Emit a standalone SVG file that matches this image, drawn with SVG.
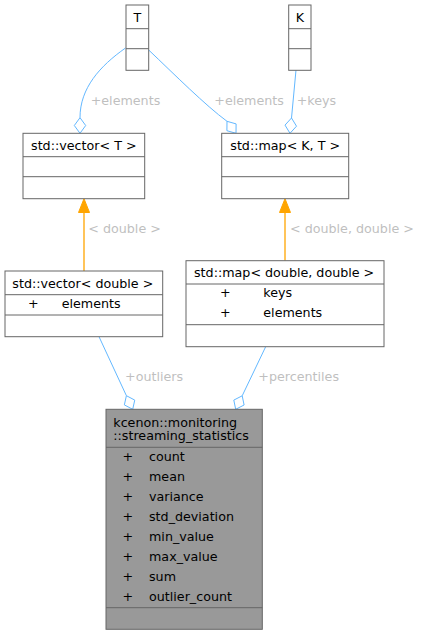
<svg xmlns="http://www.w3.org/2000/svg" width="421" height="635" viewBox="0 0 421 635">
<style>
text{font-family:"DejaVu Sans","Noto Sans",sans-serif;font-size:12.7px;fill:#000}
.box{fill:#fff;stroke:#666;stroke-width:1}
.main{fill:#999;stroke:#666;stroke-width:1}
.div{stroke:#666;stroke-width:1;fill:none}
.lbl{fill:#bfbfbf}
.blue{stroke:#63b8ff;stroke-width:1;fill:none}
.dia{stroke:#63b8ff;stroke-width:1;fill:#fff}
.org{stroke:#ffa500;stroke-width:1.3;fill:none}
.orgh{fill:#ffa500;stroke:#ffa500;stroke-width:1}
.c{text-anchor:middle}
</style>
<g id="connectors">
<path class="blue" d="M125.5,48 C100,66 80,88 80,117.7"/>
<polygon class="dia" points="80,133.3 85.7,125.5 80,117.7 74.3,125.5"/>
<path class="blue" d="M148.7,50 C175,75 205,105 227,121.3"/>
<polygon class="dia" points="236,133.3 236.1,123.9 227,121.3 226.9,130.7"/>
<path class="blue" d="M296,70 L291.5,118"/>
<polygon class="dia" points="290,133.3 296.5,126.2 291.5,118 285,125.1"/>
<path class="org" d="M84,271 L84,212"/>
<polygon class="orgh" points="84,198.7 89.5,212.5 78.5,212.5"/>
<path class="org" d="M285,260.7 L285,212"/>
<polygon class="orgh" points="285,198.7 290.5,212.5 279.5,212.5"/>
<path class="blue" d="M99,336.7 L126.4,395.7"/>
<polygon class="dia" points="132.7,409.3 134.75,400.1 126.4,395.7 124.35,404.9"/>
<path class="blue" d="M265.7,346.7 L242.2,395.8"/>
<polygon class="dia" points="235.7,409.3 244.1,405 242.2,395.8 233.8,400.1"/>
<text class="lbl" x="90.7" y="104.5">+elements</text>
<text class="lbl" x="214.3" y="104.5">+elements</text>
<text class="lbl" x="296.7" y="104.5">+keys</text>
<text class="lbl" x="88.3" y="232.7">&lt; double &gt;</text>
<text class="lbl" x="290" y="232.7">&lt; double, double &gt;</text>
<text class="lbl" x="125" y="380.5">+outliers</text>
<text class="lbl" x="258.3" y="380.5">+percentiles</text>
</g>
<g id="node-T">
<rect class="box" x="126" y="5" width="22.7" height="65.3"/>
<path class="div" d="M126,28.7 H148.7 M126,48.7 H148.7"/>
<text class="c" x="137.3" y="21.5">T</text>
</g>
<g id="node-K">
<rect class="box" x="288.7" y="5" width="22.3" height="65.3"/>
<path class="div" d="M288.7,28.7 H311 M288.7,48.7 H311"/>
<text class="c" x="299.8" y="21.5">K</text>
</g>
<g id="node-vectorT">
<rect class="box" x="23" y="133.3" width="121.7" height="65.4"/>
<path class="div" d="M23,156.7 H144.7 M23,176.7 H144.7"/>
<text class="c" x="83.8" y="150">std::vector&lt; T &gt;</text>
</g>
<g id="node-mapKT">
<rect class="box" x="221.7" y="133.3" width="127" height="65.4"/>
<path class="div" d="M221.7,156.7 H348.7 M221.7,176.7 H348.7"/>
<text class="c" x="285.2" y="150">std::map&lt; K, T &gt;</text>
</g>
<g id="node-vectorDouble">
<rect class="box" x="5" y="271" width="157.7" height="65.7"/>
<path class="div" d="M5,294.7 H162.7 M5,315 H162.7"/>
<text x="12.3" y="287.7">std::vector&lt; double &gt;</text>
<text x="28" y="307.7">+</text>
<text x="61.7" y="307.7">elements</text>
</g>
<g id="node-mapDouble">
<rect class="box" x="186" y="260.7" width="198" height="86"/>
<path class="div" d="M186,284 H384 M186,324.7 H384"/>
<text x="194" y="277">std::map&lt; double, double &gt;</text>
<text x="220" y="297">+</text>
<text x="263.3" y="297">keys</text>
<text x="220" y="317">+</text>
<text x="263.3" y="317">elements</text>
</g>
<g id="node-streaming_statistics">
<rect class="main" x="106" y="409.3" width="156.3" height="220"/>
<path class="div" d="M106,447.3 H262.3 M106,607.7 H262.3"/>
<text x="113.3" y="426.5">kcenon::monitoring</text>
<text x="113.3" y="440">::streaming_statistics</text>
<text x="122.5" y="461">+</text><text x="149" y="461">count</text>
<text x="122.5" y="481">+</text><text x="149" y="481">mean</text>
<text x="122.5" y="501">+</text><text x="149" y="501">variance</text>
<text x="122.5" y="521">+</text><text x="149" y="521">std_deviation</text>
<text x="122.5" y="541">+</text><text x="149" y="541">min_value</text>
<text x="122.5" y="561">+</text><text x="149" y="561">max_value</text>
<text x="122.5" y="581">+</text><text x="149" y="581">sum</text>
<text x="122.5" y="601">+</text><text x="149" y="601">outlier_count</text>
</g>
</svg>
